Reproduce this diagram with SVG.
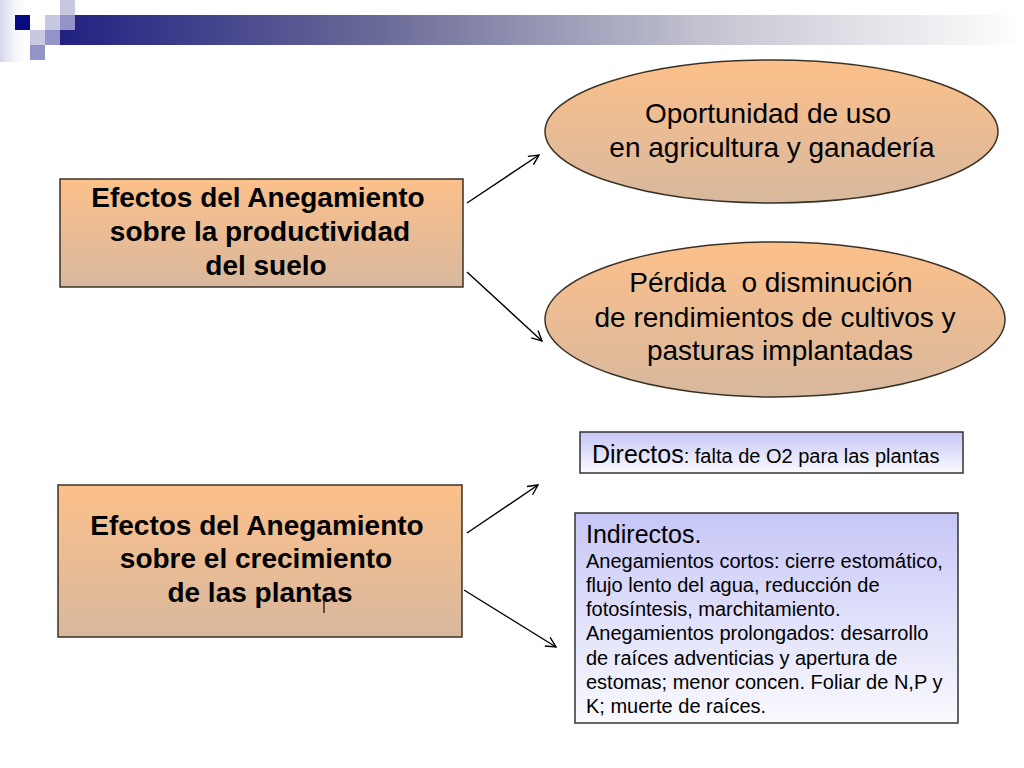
<svg xmlns="http://www.w3.org/2000/svg" width="1024" height="768" viewBox="0 0 1024 768">
<defs>
<linearGradient id="bar" x1="0" y1="0" x2="1" y2="0">
<stop offset="0" stop-color="#1a1a80"/>
<stop offset="0.35" stop-color="#6a6a98"/>
<stop offset="0.7" stop-color="#c8c8d4"/>
<stop offset="1" stop-color="#ffffff"/>
</linearGradient>
<linearGradient id="leftfade" x1="0" y1="0" x2="1" y2="0">
<stop offset="0" stop-color="#d4d4ec"/>
<stop offset="1" stop-color="#ffffff" stop-opacity="0"/>
</linearGradient>
<linearGradient id="orange" x1="0" y1="0" x2="0" y2="1">
<stop offset="0" stop-color="#fcc08a"/>
<stop offset="1" stop-color="#d8b89e"/>
</linearGradient>
<linearGradient id="blue" x1="0" y1="0" x2="0" y2="1">
<stop offset="0" stop-color="#c6c6f6"/>
<stop offset="1" stop-color="#fafaff"/>
</linearGradient>
<marker id="arr" viewBox="0 0 12 12" refX="11" refY="6" markerWidth="12" markerHeight="12" markerUnits="userSpaceOnUse" orient="auto">
<path d="M1,1 L11,6 L1,11" fill="none" stroke="#000" stroke-width="1.4"/>
</marker>
</defs>
<style>
.t{font-family:"Liberation Sans",Arial,sans-serif;fill:#000}
.b{font-weight:bold;font-size:28px;text-anchor:middle}
.e{font-size:28px;text-anchor:middle}
.box{fill:url(#orange);stroke:#3a3226;stroke-width:1.5}
.bl{fill:url(#blue);stroke:#333;stroke-width:1.5}
.c{stroke:#000;stroke-width:1.4;fill:none;marker-end:url(#arr)}
</style>
<rect width="1024" height="768" fill="#fff"/>
<g id="header">
<rect x="0" y="0" width="30" height="62" fill="url(#leftfade)"/>
<rect x="30" y="15" width="994" height="30" fill="url(#bar)"/>
<rect x="15" y="15" width="15" height="15" fill="#0a0a80"/>
<rect x="45" y="15" width="15" height="15" fill="#c8c8e0"/>
<rect x="60" y="0" width="15" height="15" fill="#c8c8e0"/>
<rect x="60" y="15" width="15" height="15" fill="#9494c8"/>
<rect x="30" y="30" width="15" height="15" fill="#c8c8e0"/>
<rect x="45" y="30" width="15" height="15" fill="#9494c8"/>
<rect x="30" y="45" width="15" height="15" fill="#9494c8"/>
<rect x="30" y="15" width="15" height="15" fill="#ffffff"/>
</g>
<g id="connectors">
<line class="c" x1="467" y1="203" x2="539" y2="155"/>
<line class="c" x1="467" y1="272" x2="542" y2="341"/>
<line class="c" x1="467" y1="533" x2="538" y2="485"/>
<line class="c" x1="464" y1="590" x2="556" y2="647"/>
</g>
<g id="node-productividad">
<rect class="box" x="60" y="179" width="403" height="108"/>
<text class="t b" x="258" y="207">Efectos del Anegamiento</text>
<text class="t b" x="260" y="241">sobre la productividad</text>
<text class="t b" x="266" y="275">del suelo</text>
</g>
<g id="node-crecimiento">
<rect class="box" x="58" y="485" width="404" height="152"/>
<text class="t b" x="257" y="535">Efectos del Anegamiento</text>
<text class="t b" x="256" y="568">sobre el crecimiento</text>
<text class="t b" x="260" y="602">de las plantas</text>
<line x1="324" y1="597" x2="324" y2="613" stroke="#000" stroke-width="1.2"/>
</g>
<g id="node-oportunidad">
<ellipse class="box" cx="771.5" cy="131.5" rx="226.5" ry="71.5"/>
<text class="t e" x="768" y="123">Oportunidad de uso</text>
<text class="t e" x="772" y="157">en agricultura y ganadería</text>
</g>
<g id="node-perdida">
<ellipse class="box" cx="775" cy="319.5" rx="230" ry="77.5"/>
<text class="t e" x="771" y="292" xml:space="preserve">Pérdida  o disminución</text>
<text class="t e" x="775" y="327">de rendimientos de cultivos y</text>
<text class="t e" x="780" y="360">pasturas implantadas</text>
</g>
<g id="node-directos">
<rect class="bl" x="580" y="432" width="383" height="41"/>
<text class="t" x="592" y="463"><tspan font-size="25">Directos</tspan><tspan font-size="20">: falta de O2 para las plantas</tspan></text>
</g>
<g id="node-indirectos">
<rect class="bl" x="575" y="513" width="383" height="210"/>
<text class="t" x="586" y="543" font-size="25">Indirectos.</text>
<text class="t" font-size="20">
<tspan x="586" y="568">Anegamientos cortos: cierre estomático,</tspan>
<tspan x="586" y="592">flujo lento del agua, reducción de</tspan>
<tspan x="586" y="616">fotosíntesis, marchitamiento.</tspan>
<tspan x="586" y="640">Anegamientos prolongados: desarrollo</tspan>
<tspan x="586" y="665">de raíces adventicias y apertura de</tspan>
<tspan x="586" y="689">estomas; menor concen. Foliar de N,P y</tspan>
<tspan x="586" y="713">K; muerte de raíces.</tspan>
</text>
</g>
</svg>
